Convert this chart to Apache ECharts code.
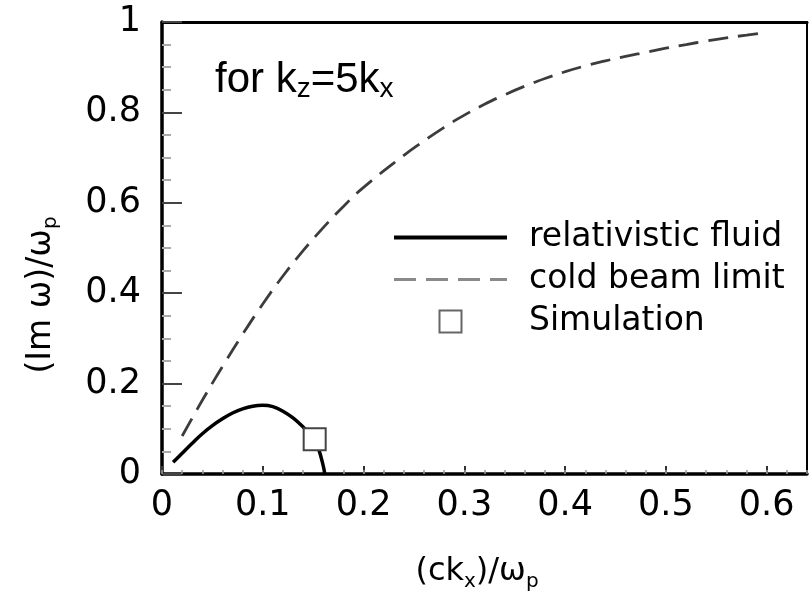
<!DOCTYPE html>
<html>
<head>
<meta charset="utf-8">
<script src="https://cdn.jsdelivr.net/npm/echarts@6/dist/echarts.min.js"></script>
<style>
  html, body { margin: 0; padding: 0; background: #fff; }
  #chart { width: 809px; height: 591px; }
</style>
</head>
<body>
<div id="chart"></div>
<script>
// Growth rate (Im ω)/ωp against normalised wavenumber (ck_x)/ωp, for k_z = 5 k_x

// relativistic fluid model
const fluidK = [0.011, 0.02, 0.03, 0.04, 0.05, 0.06, 0.07, 0.08, 0.09, 0.10, 0.11, 0.12, 0.13, 0.14, 0.145, 0.15, 0.155, 0.16, 0.1615];
const fluidGrowth = [0.026, 0.046, 0.068, 0.089, 0.107, 0.122, 0.135, 0.144, 0.150, 0.152, 0.149, 0.139, 0.124, 0.104, 0.092, 0.080, 0.058, 0.018, 0.0];

// cold beam limit
const coldK = [0.02, 0.03, 0.04, 0.05, 0.06, 0.08, 0.10, 0.12, 0.14, 0.16, 0.18, 0.20, 0.24, 0.26, 0.28, 0.30, 0.32, 0.34, 0.36, 0.38, 0.40, 0.42, 0.44, 0.46, 0.48, 0.50, 0.52, 0.54, 0.56, 0.58, 0.60];
const coldGrowth = [0.084, 0.124, 0.163, 0.201, 0.238, 0.309, 0.376, 0.438, 0.494, 0.545, 0.592, 0.634, 0.705, 0.737, 0.767, 0.794, 0.818, 0.839, 0.858, 0.875, 0.890, 0.903, 0.914, 0.924, 0.933, 0.942, 0.950, 0.958, 0.965, 0.971, 0.977];

// PIC simulation result
const simK = [0.1515];
const simGrowth = [0.077];

// axis ranges and tick steps
const xRange = [0, 0.64];
const xMajorStep = 0.1;
const xMinorStep = 0.02;
const yRange = [0, 1];
const yMajorStep = 0.2;
const yMinorSplit = 4;

const seriesNames = ['relativistic fluid', 'cold beam limit', 'Simulation'];

const zip = (xs, ys) => xs.map((x, i) => [x, ys[i]]);

const tickFont = 'DejaVu Sans';
const squareIcon = 'path://M0,0 L10,0 L10,10 L0,10 Z';
const hidden = { show: false };
const chart = echarts.init(document.getElementById('chart'), null, { renderer: 'canvas' });

chart.setOption({
  animation: false,
  backgroundColor: '#fff',
  grid: {
    left: 162, right: 2, top: 22, bottom: 117,
    show: false, containLabel: false
  },
  xAxis: [
    {
      // labelled axis with major ticks
      type: 'value', position: 'bottom', min: xRange[0], max: xRange[1], interval: xMajorStep,
      axisLine: { show: true, onZero: false, lineStyle: { color: '#000', width: 3.5 } },
      axisTick: { show: true, inside: true, length: 8, lineStyle: { color: '#333', width: 2 } },
      axisLabel: {
        show: true, margin: 14, fontSize: 35, color: '#000', fontFamily: tickFont,
        showMaxLabel: false, showMinLabel: true, hideOverlap: false
      },
      splitLine: hidden
    },
    {
      // minor ticks
      type: 'value', position: 'bottom', min: xRange[0], max: xRange[1], interval: xMinorStep,
      axisLine: hidden,
      axisTick: { show: true, inside: true, length: 4, lineStyle: { color: '#999', width: 1.5 } },
      axisLabel: hidden,
      splitLine: hidden
    },
    {
      // top frame edge
      type: 'value', position: 'top', min: xRange[0], max: xRange[1],
      axisLine: { show: true, onZero: false, lineStyle: { color: '#000', width: 3 } },
      axisTick: hidden, axisLabel: hidden, splitLine: hidden
    }
  ],
  yAxis: [
    {
      type: 'value', position: 'left', min: yRange[0], max: yRange[1], interval: yMajorStep,
      axisLine: { show: true, onZero: false, lineStyle: { color: '#000', width: 3.5 } },
      axisTick: { show: true, inside: true, length: 20, lineStyle: { color: '#444', width: 2 } },
      minorTick: { show: true, splitNumber: yMinorSplit, length: 9, lineStyle: { color: '#aaa', width: 2 } },
      axisLabel: { show: true, margin: 21, fontSize: 35, color: '#000', fontFamily: tickFont, hideOverlap: false },
      splitLine: hidden,
      minorSplitLine: hidden
    },
    {
      // right frame edge
      type: 'value', position: 'right', min: yRange[0], max: yRange[1],
      axisLine: { show: true, onZero: false, lineStyle: { color: '#000', width: 2 } },
      axisTick: hidden, axisLabel: hidden, splitLine: hidden
    }
  ],
  legend: {
    orient: 'vertical', left: 392, top: 221, padding: 0,
    itemWidth: 113, itemHeight: 22, itemGap: 9,
    selectedMode: false,
    symbolKeepAspect: true,
    textStyle: { fontSize: 33, color: '#000', fontFamily: tickFont, lineHeight: 30, padding: [0, 0, 0, 17] },
    data: [
      { name: seriesNames[0], itemStyle: { opacity: 0 }, lineStyle: { width: 4, color: '#000' } },
      { name: seriesNames[1], itemStyle: { opacity: 0 }, lineStyle: { width: 3, color: '#8a8a8a', type: [22, 10] } },
      { name: seriesNames[2], icon: squareIcon, itemStyle: { color: '#fff', borderColor: '#666', borderWidth: 2 } }
    ]
  },
  series: [
    {
      name: seriesNames[0], type: 'line', xAxisIndex: 0, yAxisIndex: 0,
      data: zip(fluidK, fluidGrowth),
      symbol: 'none', smooth: 0.4,
      lineStyle: { color: '#000', width: 3.5 },
      itemStyle: { color: '#000' },
      z: 3
    },
    {
      name: seriesNames[1], type: 'line', xAxisIndex: 0, yAxisIndex: 0,
      data: zip(coldK, coldGrowth),
      symbol: 'none', smooth: 0.5,
      lineStyle: { color: '#3c3c3c', width: 2.8, type: [20, 10] },
      itemStyle: { color: '#3c3c3c' },
      z: 2
    },
    {
      name: seriesNames[2], type: 'scatter', xAxisIndex: 0, yAxisIndex: 0,
      data: zip(simK, simGrowth),
      symbol: 'rect', symbolSize: 22,
      itemStyle: { color: '#fff', borderColor: '#444', borderWidth: 2, opacity: 1 },
      z: 5
    }
  ],
  graphic: [
    {
      // annotation in the upper left of the plot
      type: 'text', x: 215, y: 57, z: 10,
      style: {
        text: '{m|for k}{s|z}{m|=5k}{s|x}',
        align: 'left', verticalAlign: 'top',
        rich: {
          m: { fontFamily: 'Liberation Sans', fontSize: 42, lineHeight: 46, verticalAlign: 'middle', fill: '#000' },
          s: { fontFamily: 'Liberation Sans', fontSize: 28, lineHeight: 18, verticalAlign: 'bottom', fill: '#000' }
        }
      }
    },
    {
      // x axis title
      type: 'text', x: 477, y: 572, z: 10,
      style: {
        text: '{m|(ck}{s|x}{m|)/ω}{s|p}',
        align: 'center', verticalAlign: 'middle',
        rich: {
          m: { fontFamily: tickFont, fontSize: 32, lineHeight: 40, verticalAlign: 'middle', fill: '#000' },
          s: { fontFamily: tickFont, fontSize: 20, lineHeight: 25, verticalAlign: 'bottom', fill: '#000' }
        }
      }
    },
    {
      // y axis title, reading bottom to top
      type: 'text', x: 41, y: 295, rotation: Math.PI / 2, z: 10,
      style: {
        text: '{m|(Im ω)/ω}{s|p}',
        align: 'center', verticalAlign: 'middle',
        rich: {
          m: { fontFamily: tickFont, fontSize: 33, lineHeight: 40, verticalAlign: 'middle', fill: '#000' },
          s: { fontFamily: tickFont, fontSize: 20, lineHeight: 25, verticalAlign: 'bottom', fill: '#000' }
        }
      }
    }
  ]
});
</script>
</body>
</html>
